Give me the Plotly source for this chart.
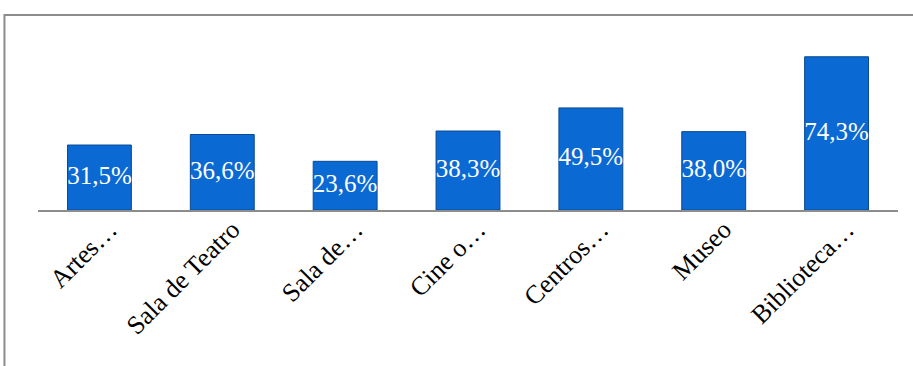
import plotly.graph_objects as go

categories = ["Artes…", "Sala de Teatro", "Sala de…", "Cine o…", "Centros…", "Museo", "Biblioteca…"]
values = [31.5, 36.6, 23.6, 38.3, 49.5, 38.0, 74.3]
labels = ["31,5%", "36,6%", "23,6%", "38,3%", "49,5%", "38,0%", "74,3%"]

fig = go.Figure()
fig.add_trace(go.Bar(
    x=categories, y=values,
    marker=dict(color="#0a69d3", line=dict(color="#0a4a92", width=1)),
    width=0.52, hoverinfo="skip",
))
fig.add_trace(go.Scatter(
    x=categories, y=[v / 2 for v in values], text=labels,
    mode="text", textposition="middle center",
    textfont=dict(family="Liberation Serif", size=25, color="white"),
    hoverinfo="skip",
))

fig.update_layout(
    width=913, height=366,
    margin=dict(l=38, r=15, t=45, b=156),
    paper_bgcolor="white", plot_bgcolor="white",
    showlegend=False,
    xaxis=dict(showline=True, linecolor="#8c8c8c", linewidth=2, ticks="",
               tickangle=-45, tickfont=dict(family="Liberation Serif", size=26, color="black"),
               ticklabelshift=10, ticklabelstandoff=-8,
               showgrid=False),
    yaxis=dict(range=[0, 80], visible=False, showgrid=False, zeroline=False),
    shapes=[dict(type="rect", xref="paper", yref="paper",
                 x0=-0.039, y0=-1.3, x1=1.1, y1=1.1818,
                 line=dict(color="#8c8c8c", width=2), layer="below")],
)

fig.write_html("out.html")
